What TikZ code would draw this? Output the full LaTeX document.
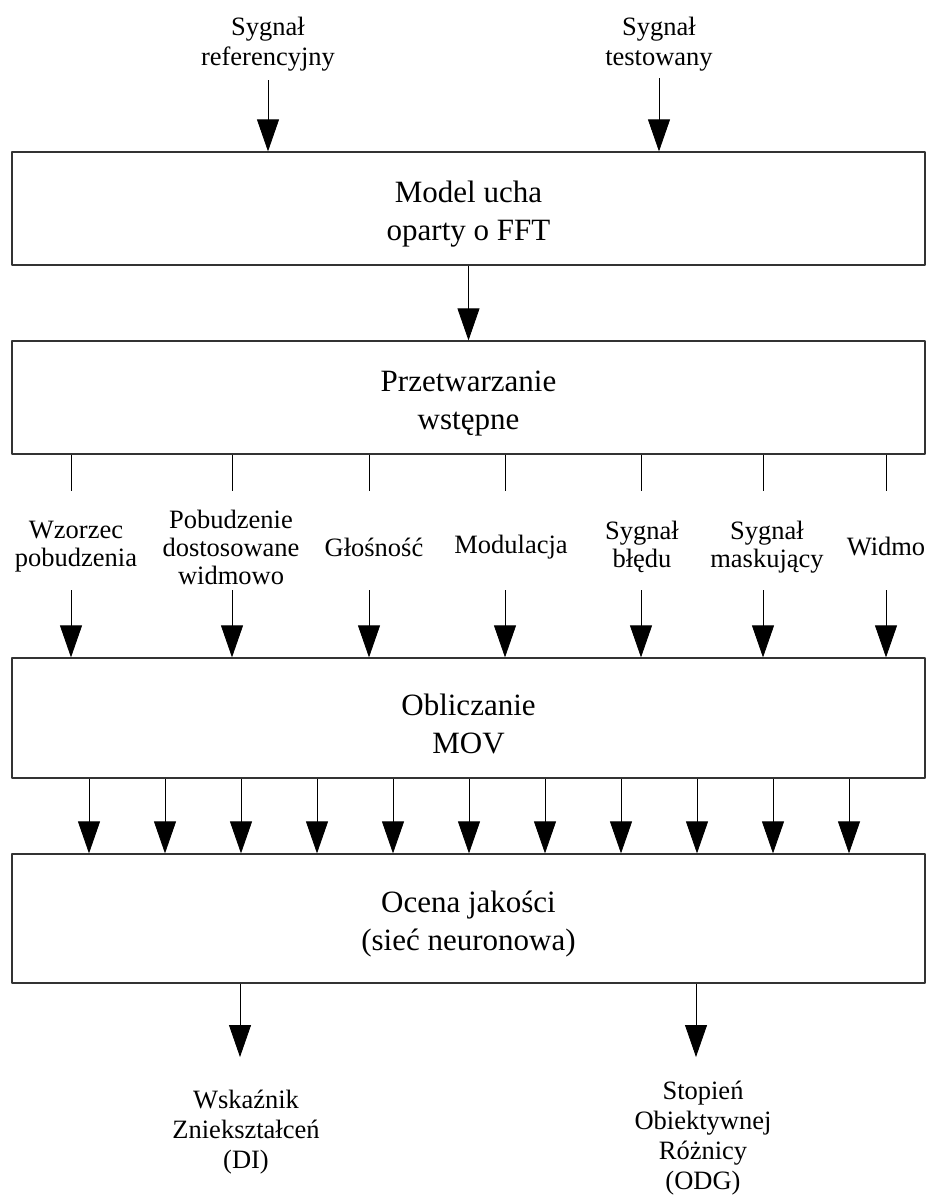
\documentclass[tikz,border=0pt]{standalone}
\usepackage{fontspec}
\setmainfont{Liberation Serif}
\usetikzlibrary{arrows.meta}
\newcommand\podpora{\rule{0pt}{33pt}}
\begin{document}
\begin{tikzpicture}[x=1pt, y=-1pt, line join=round,
	>={Triangle[length=32pt,width=22pt]},
	blok/.style={draw=black!80, line width=1.2pt, minimum width=913pt, minimum height=#1, inner sep=0pt, align=center, font=\fontsize{31}{38}\selectfont},
	opis/.style={align=center, inner sep=0pt, font=\fontsize{26.5}{28}\selectfont},
	strz/.style={->, line width=0.8pt}]
	\useasboundingbox (0,0) rectangle (926,1196);
	% bloki
	\node[blok=113pt] (fft) at (468.5,208.5) {\podpora Model ucha\\oparty o FFT};
	\node[blok=113pt] (wst) at (468.5,397.5) {\podpora Przetwarzanie\\wstępne};
	\node[blok=120pt] (mov) at (468.5,718) {\podpora Obliczanie\\MOV};
	\node[blok=129pt] (ocena) at (468.5,918.5) {\podpora Ocena jakości\\(sieć neuronowa)};
	% wejscia
	\node[opis, font=\fontsize{26.5}{30}\selectfont] (ref) at (268,44) {Sygnał\\referencyjny};
	\node[opis, font=\fontsize{26.5}{30}\selectfont] (test) at (659,44) {Sygnał\\testowany};
	\draw[strz, shorten <=9pt] (ref) -- (ref |- fft.north);
	\draw[strz, shorten <=7pt] (test) -- (test |- fft.north);
	\draw[strz] (fft) -- (wst);
	% parametry
	\foreach \x/\lx/\n/\t in {71/76/a/{Wzorzec\\pobudzenia}, 232/231/b/{Pobudzenie\\dostosowane\\widmowo},
		369/374/c/{Głośność}, 505/511/d/{Modulacja}, 641/642/e/{Sygnał\\błędu},
		763/767/f/{Sygnał\\maskujący}, 886/886/g/{Widmo}}
	{
		\node[opis] (m\n) at (\lx,547) {\t};
		\coordinate (g\n) at (\x,491);
		\coordinate (d\n) at (\x,590);
		\draw[line width=0.8pt] (wst.south -| g\n) -- (g\n);
		\draw[strz] (d\n) -- (d\n |- mov.north);
	}
	% MOV
	\foreach \xx in {89,165,...,849}
	{
		\coordinate (k) at (\xx,0);
		\draw[strz] (mov.south -| k) -- (ocena.north -| k);
	}
	% wyjscia
	\coordinate (di0) at (240,1057);
	\coordinate (odg0) at (696,1057);
	\draw[strz] (ocena.south -| di0) -- (di0);
	\draw[strz] (ocena.south -| odg0) -- (odg0);
	\node[opis, font=\fontsize{26.5}{30}\selectfont] (di) at (246,1132) {Wskaźnik\\Zniekształceń\\(DI)};
	\node[opis, font=\fontsize{26.5}{30}\selectfont] (odg) at (703,1138) {Stopień\\Obiektywnej\\Różnicy\\(ODG)};
\end{tikzpicture}
\end{document}
